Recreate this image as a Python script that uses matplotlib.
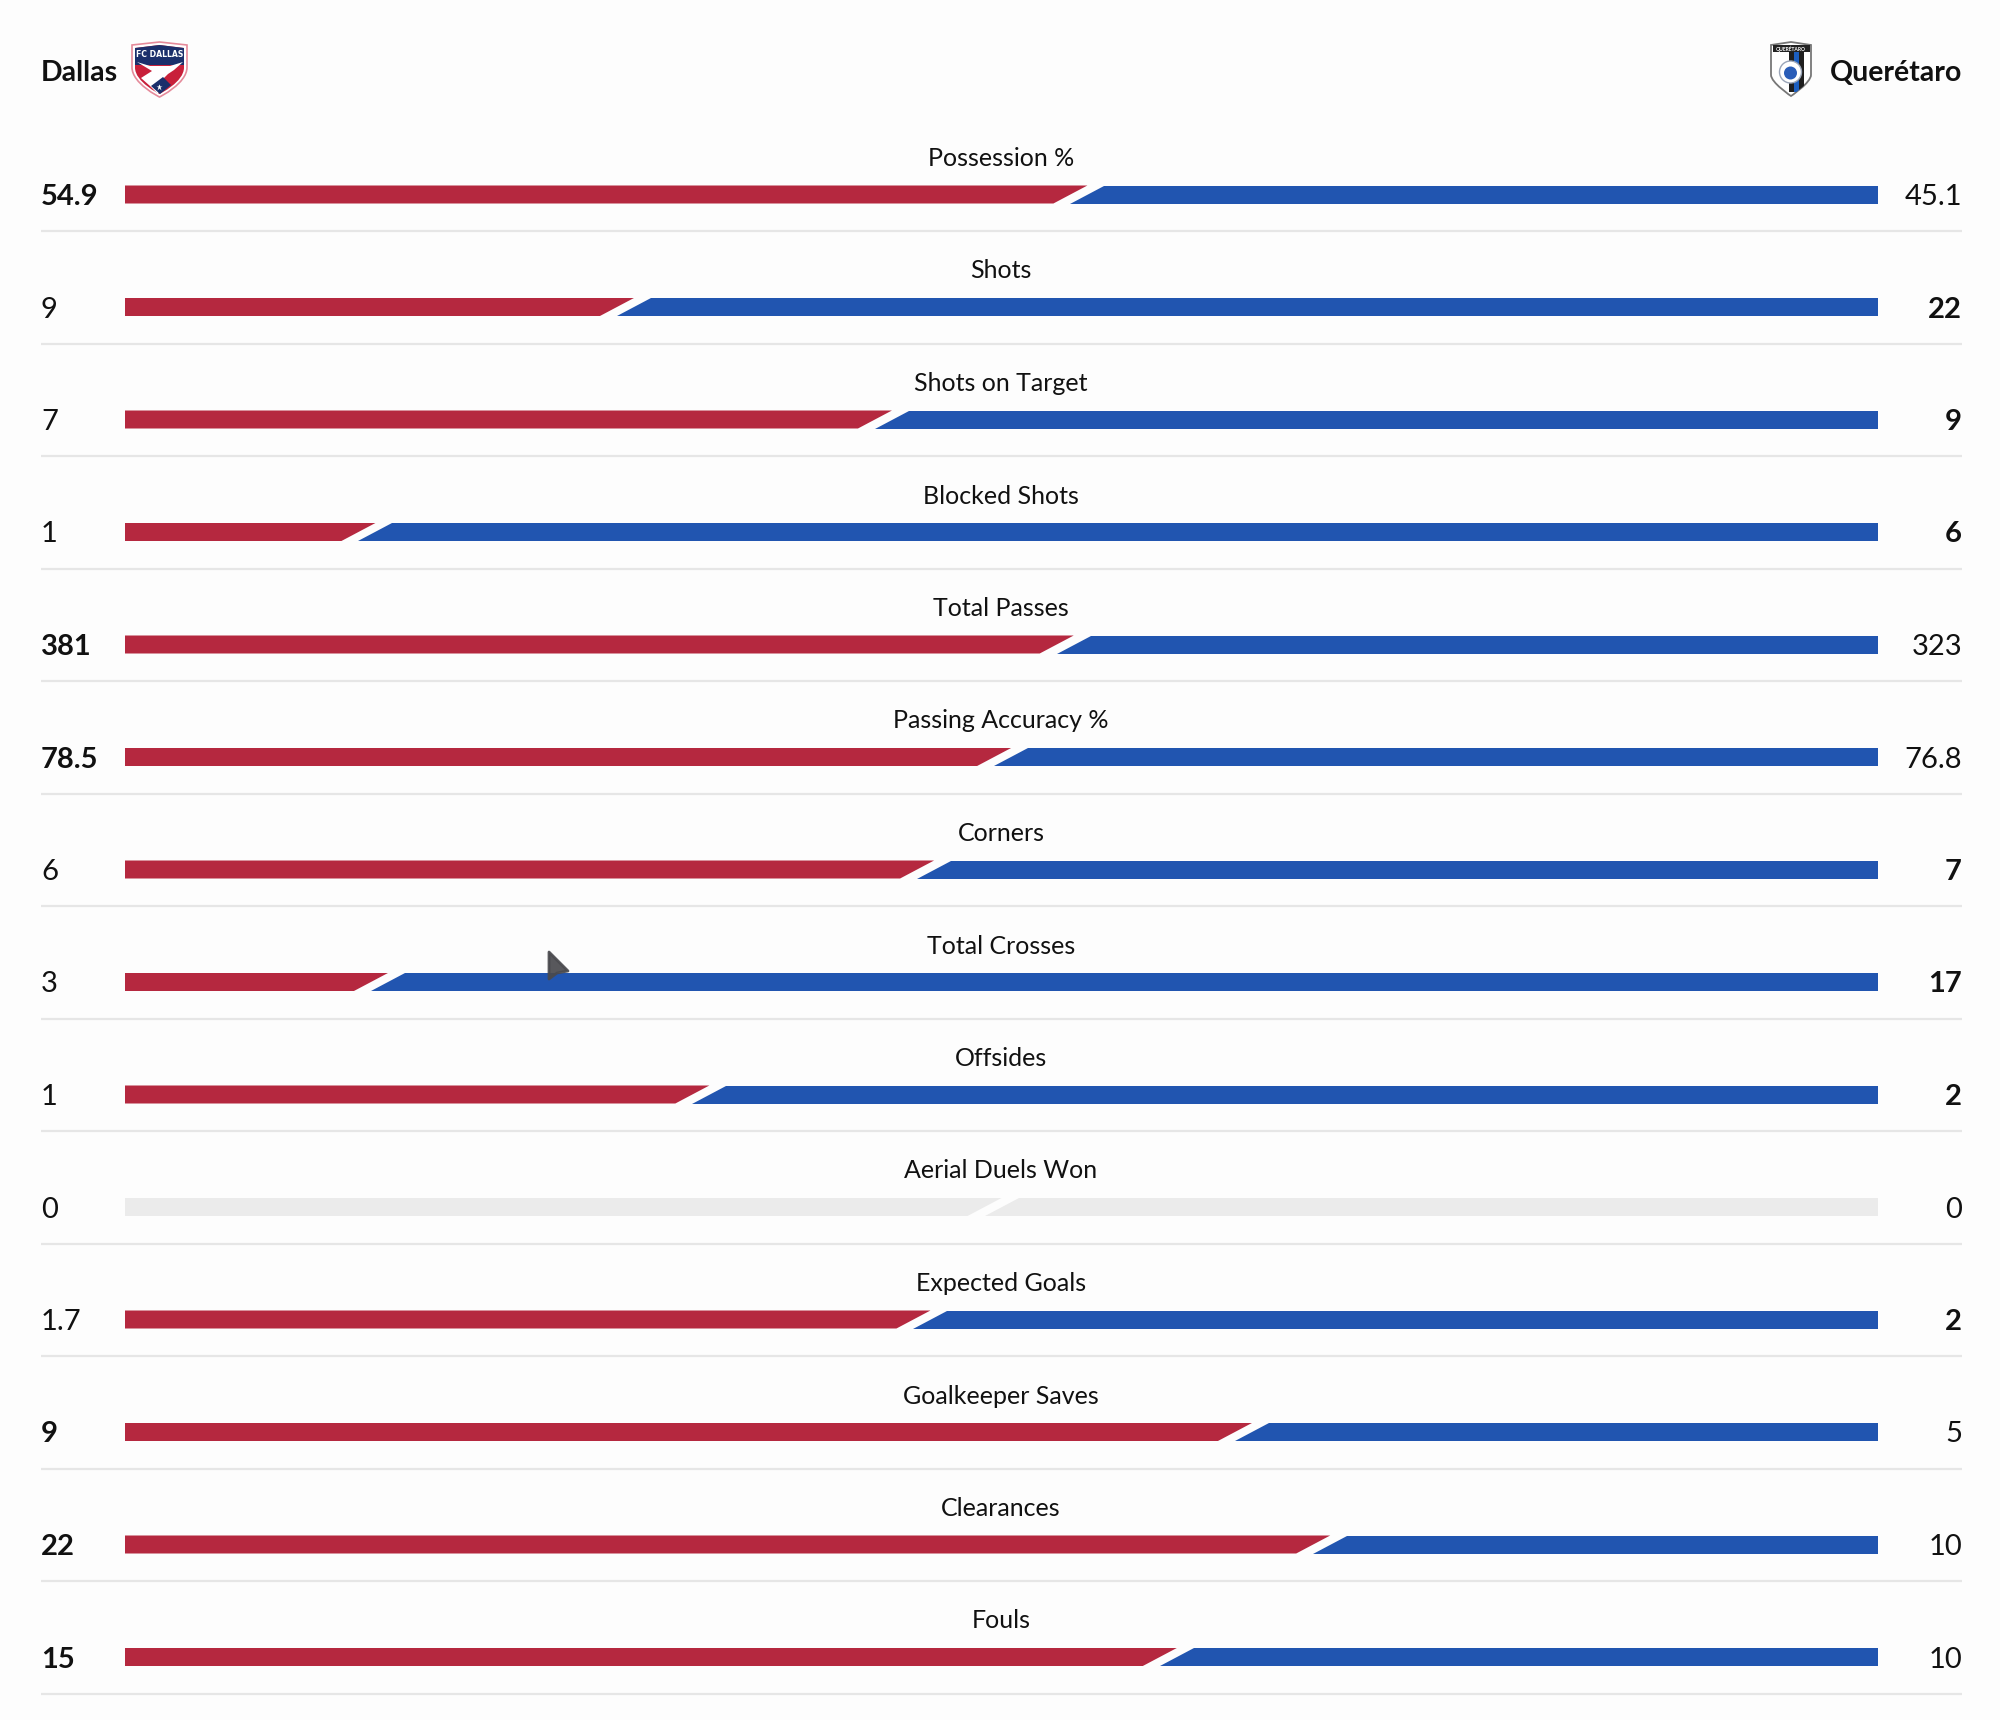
import matplotlib
matplotlib.use("Agg")
import matplotlib.pyplot as plt
from matplotlib.patches import Polygon, PathPatch, Circle, Rectangle
from matplotlib.path import Path

FONT = "Lato"
plt.rcParams["font.family"] = [FONT, "DejaVu Sans"]

teams = ["Dallas", "Querétaro"]
stats = ["Possession %", "Shots", "Shots on Target", "Blocked Shots", "Total Passes",
         "Passing Accuracy %", "Corners", "Total Crosses", "Offsides", "Aerial Duels Won",
         "Expected Goals", "Goalkeeper Saves", "Clearances", "Fouls"]
home = [54.9, 9, 7, 1, 381, 78.5, 6, 3, 1, 0, 1.7, 9, 22, 15]
away = [45.1, 22, 9, 6, 323, 76.8, 7, 17, 2, 0, 2, 5, 10, 10]

RED, BLUE, GREY = "#B5283F", "#2155B0", "#EBEBEB"
INK, RULE, BG = "#111111", "#E6E6E6", "#FDFDFD"
L, R, BL, BR = 41, 1962, 125, 1878
Y0, PITCH, H, SLANT, GAP = 194.5, 112.5, 18, 34, 17

fig = plt.figure(figsize=(20, 17.2), dpi=100, facecolor=BG)
ax = fig.add_axes([0, 0, 1, 1])
ax.set_xlim(0, 2000)
ax.set_ylim(1720, 0)
ax.axis("off")


def fmt(v):
    return f"{v:g}"


for i, (name, a, b) in enumerate(zip(stats, home, away)):
    y = Y0 + i * PITCH
    tot = a + b
    frac = a / tot if tot else 0.5
    x = BL + frac * (BR - BL)
    c1, c2 = (RED, BLUE) if tot else (GREY, GREY)
    ax.add_patch(Polygon([(BL, y - H / 2), (x, y - H / 2), (x - SLANT, y + H / 2), (BL, y + H / 2)],
                         closed=True, fc=c1, ec="none"))
    ax.add_patch(Polygon([(x + GAP, y - H / 2), (BR, y - H / 2), (BR, y + H / 2), (x + GAP - SLANT, y + H / 2)],
                         closed=True, fc=c2, ec="none"))
    ax.plot([L, R], [y + 36.5, y + 36.5], color=RULE, lw=1.6, solid_capstyle="butt")
    ax.text(1001, y - 28.5, name, ha="center", va="baseline", fontsize=18, color=INK)
    ax.text(L, y + 10.5, fmt(a), ha="left", va="baseline", fontsize=21, color=INK,
            fontweight="bold" if a > b else "normal")
    ax.text(R, y + 10.5, fmt(b), ha="right", va="baseline", fontsize=21, color=INK,
            fontweight="bold" if b > a else "normal")

ax.text(L, 81, teams[0], ha="left", va="baseline", fontsize=20.5, fontweight="bold", color=INK)
ax.text(R, 81, teams[1], ha="right", va="baseline", fontsize=20.5, fontweight="bold", color=INK)


def shield(x0, x1, y0, y1, shoulder=0.45):
    xm = (x0 + x1) / 2
    verts = [(x0, y0 + 2), (xm, y0 - 1), (x1, y0 + 2),
             (x1, y0 + (y1 - y0) * shoulder),
             (x1, y0 + (y1 - y0) * 0.75), (xm, y1), (xm, y1),
             (xm, y1), (x0, y0 + (y1 - y0) * 0.75), (x0, y0 + (y1 - y0) * shoulder),
             (x0, y0 + 2)]
    codes = [Path.MOVETO, Path.LINETO, Path.LINETO, Path.LINETO,
             Path.CURVE4, Path.CURVE4, Path.CURVE4,
             Path.CURVE4, Path.CURVE4, Path.CURVE4, Path.CLOSEPOLY]
    return Path(verts, codes)


# FC Dallas crest
NAVY, CREST = "#1B2F6B", "#C8203A"
outer = PathPatch(shield(132, 187, 43, 97), fc="white", ec="#E58A9A", lw=1.2, zorder=3)
ax.add_patch(outer)
clip = PathPatch(shield(135, 184, 46, 94), fc=CREST, ec="none", zorder=4)
ax.add_patch(clip)
navy = Rectangle((135, 45), 49, 20, fc=NAVY, ec="none", zorder=5)
navy.set_clip_path(clip)
ax.add_patch(navy)
ax.text(159.5, 54.5, "FC DALLAS", ha="center", va="center", fontsize=5.6, fontweight="bold",
        color="white", family="Liberation Sans Narrow", zorder=6)
horn = Polygon([(137, 62), (150, 66), (170, 66), (183, 62), (174, 70), (168, 74), (163, 79), (158, 94),
                (150, 86), (141, 78), (152, 71)], closed=True, fc="white", ec="none", zorder=6)
ax.add_patch(horn)
ax.add_patch(Polygon([(151, 86), (163, 77), (171, 85), (160, 94)], closed=True, fc=NAVY, ec="none", zorder=7))
ax.plot([158.5], [87], marker="*", ms=5, color="white", mec="none", zorder=8)

# Queretaro crest
outer2 = PathPatch(shield(1771, 1811, 43, 96, 0.6), fc="white", ec="#777777", lw=1.3, zorder=3)
ax.add_patch(outer2)
for xa, w, col in [(1789, 5, "#1F1F1F"), (1794, 5, "#1C5FC0"), (1799, 4.5, "#1F1F1F")]:
    s = Rectangle((xa, 46), w, 46, fc=col, ec="none", zorder=4)
    s.set_clip_path(outer2)
    ax.add_patch(s)
ax.add_patch(Rectangle((1772.5, 45), 37, 7, fc="#222222", ec="none", zorder=5))
ax.text(1791, 48.6, "QUERÉTARO", ha="center", va="center", fontsize=3.6, fontweight="bold", color="white", zorder=6)
ax.add_patch(Circle((1790.5, 72), 11, fc="white", ec="#9AA5B8", lw=1.0, zorder=5))
ax.add_patch(Circle((1790.5, 73), 6.5, fc="#2A5DB8", ec="none", zorder=6))

# Mouse pointer
ax.add_patch(Polygon([(549, 952), (568, 971), (557, 973), (549, 979)], closed=True,
                     fc="#4A4A4E", ec="#4A4A4E", lw=2, joinstyle="round", alpha=0.92, zorder=9))

fig.savefig("out.png", dpi=100, facecolor=BG)
